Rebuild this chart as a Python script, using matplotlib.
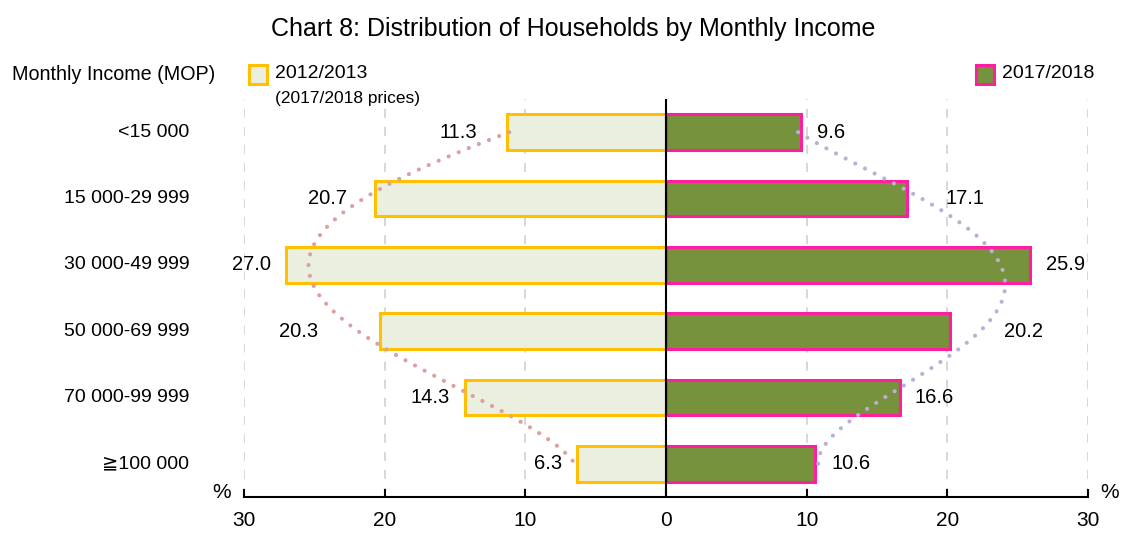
import numpy as np
import matplotlib
matplotlib.use("Agg")
import matplotlib.pyplot as plt

plt.rcParams['font.family'] = ['Liberation Sans Narrow', 'Liberation Sans', 'DejaVu Sans', 'Noto Sans CJK JP']

# data
categories = ['<15 000', '15 000-29 999', '30 000-49 999', '50 000-69 999', '70 000-99 999', '≧100 000']
share_2012 = [11.3, 20.7, 27.0, 20.3, 14.3, 6.3]
share_2017 = [9.6, 17.1, 25.9, 20.2, 16.6, 10.6]

# extra gap between bar end and value label (data units)
gap_left = [2.1, 2.0, 1.1, 4.4, 1.1, 1.1]
gap_right = [1.1, 2.8, 1.1, 3.8, 1.1, 1.2]

fill_old, edge_old = '#ebefdf', '#ffc000'
fill_new, edge_new = '#76923c', '#ff1ea0'

fig = plt.figure(figsize=(11.21, 5.35), dpi=100)
ax = fig.add_axes([244 / 1121, 1 - 497 / 535, 844 / 1121, (497 - 99) / 535])

y = np.arange(len(categories))
ax.barh(y, [-v for v in share_2012], height=0.54, color=fill_old, edgecolor=edge_old, linewidth=2.2, zorder=3)
ax.barh(y, share_2017, height=0.54, color=fill_new, edgecolor=edge_new, linewidth=2.2, zorder=3)

# 4th order polynomial trend curves
yy = np.linspace(0, len(categories) - 1, 200)
fit_old = np.polyval(np.polyfit(y, share_2012, 4), yy)
fit_new = np.polyval(np.polyfit(y, share_2017, 4), yy)
ax.plot(-fit_old, yy, color='#dca0a0', lw=3, ls=(0, (0.01, 2.6)), dash_capstyle='round', zorder=4)
ax.plot(fit_new, yy, color='#bcaed6', lw=3, ls=(0, (0.01, 2.6)), dash_capstyle='round', zorder=4)

for i in range(len(categories)):
    ax.text(-share_2012[i] - gap_left[i], i, f'{share_2012[i]:.1f}', ha='right', va='center', fontsize=14.5)
    ax.text(share_2017[i] + gap_right[i], i, f'{share_2017[i]:.1f}', ha='left', va='center', fontsize=14.5)
    ax.text(-30 - 3.9, i, categories[i], ha='right', va='center', fontsize=14)

ax.axvline(0, color='black', lw=1.5, zorder=5)
for g in [-30, -20, -10, 10, 20, 30]:
    ax.axvline(g, color='#d4d4d4', lw=1.3, ls=(0, (5, 5)), zorder=1)

ax.set_xlim(-30, 30)
ax.set_ylim(len(categories) - 0.5, -0.5)
ax.set_yticks([])
for s in ['top', 'left', 'right']:
    ax.spines[s].set_visible(False)
ax.spines['bottom'].set_linewidth(1.5)
ax.set_xticks(range(-30, 31, 10))
ax.set_xticklabels([str(abs(t)) for t in range(-30, 31, 10)], fontsize=15)
ax.tick_params(axis='x', direction='in', length=6, width=1.5, pad=10)

fig.text(222 / 1121, 1 - 493 / 535, '%', ha='center', va='center', fontsize=15)
fig.text(1110 / 1121, 1 - 493 / 535, '%', ha='center', va='center', fontsize=15)

fig.text(573 / 1121, 1 - 29 / 535, 'Chart 8: Distribution of Households by Monthly Income', ha='center', va='center', fontsize=18)
fig.text(12 / 1121, 1 - 75 / 535, 'Monthly Income (MOP)', ha='left', va='center', fontsize=14.2)

# legend squares
fig.patches.append(plt.Rectangle((249 / 1121, 1 - 84 / 535), 18 / 1121, 19 / 535, transform=fig.transFigure,
                                 facecolor=fill_old, edgecolor=edge_old, lw=2.2))
fig.text(275 / 1121, 1 - 74 / 535, '2012/2013', ha='left', va='center', fontsize=14)
fig.text(275 / 1121, 1 - 99 / 535, '(2017/2018 prices)', ha='left', va='center', fontsize=12.5)
fig.patches.append(plt.Rectangle((976 / 1121, 1 - 84 / 535), 18 / 1121, 19 / 535, transform=fig.transFigure,
                                 facecolor=fill_new, edgecolor=edge_new, lw=2.2))
fig.text(1002 / 1121, 1 - 74 / 535, '2017/2018', ha='left', va='center', fontsize=14)

fig.savefig('out.png', dpi=100)
